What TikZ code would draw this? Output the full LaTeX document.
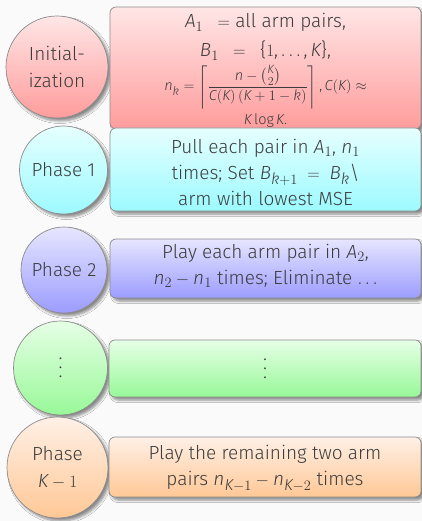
\documentclass[tikz,border=0pt]{standalone}
\usepackage{amsmath}
\usepackage{fontspec}
\setmainfont{Fira Sans Light}
\usepackage[italic]{mathastext}
\usetikzlibrary{shadows.blur}

\definecolor{bgc}{HTML}{FAFAFA}
\definecolor{ink}{HTML}{3C3C3C}
\definecolor{edge}{HTML}{8C8C8C}
\definecolor{redT}{HTML}{FFE6E6}\definecolor{redB}{HTML}{FF9C9C}
\definecolor{cyaT}{HTML}{E6FFFF}\definecolor{cyaB}{HTML}{9CFAFF}
\definecolor{bluT}{HTML}{E6E6FF}\definecolor{bluB}{HTML}{9C9CFF}
\definecolor{grnT}{HTML}{E6FFE6}\definecolor{grnB}{HTML}{98F898}
\definecolor{orgT}{HTML}{FFF0E6}\definecolor{orgB}{HTML}{FFC896}

% three stacked dots, spaced like a tall vertical ellipsis
\newcommand\stackdots{\vbox{\baselineskip=9pt\lineskiplimit=-20pt
  \hbox{.}\hbox{.}\hbox{.}}}
% the full-length minus sign of the math symbol font
\newcommand\mminus{\mathchar"2200\relax}

\tikzset{
  softshadow/.style={blur shadow={shadow xshift=3pt, shadow yshift=-3pt,
      shadow blur steps=6, shadow blur radius=2.5pt, shadow opacity=45}},
  phasecirc/.style={circle, draw=edge, line width=0.7pt, inner sep=0pt,
      softshadow, text=ink, align=center,
      font=\fontsize{19}{27}\selectfont},
  stagebox/.style={rectangle, rounded corners=6pt, draw=edge,
      line width=0.7pt, inner sep=0pt, softshadow},
  boxtext/.style={text=ink, align=center, inner sep=0pt,
      font=\fontsize{19}{26}\selectfont},
  smalltext/.style={text=ink, inner sep=0pt,
      font=\fontsize{14.5}{16}\selectfont},
  tint/.style 2 args={top color=#1, bottom color=#2}
}

\begin{document}
\begin{tikzpicture}[x=1pt,y=1pt]
  \fill[bgc] (0,0) rectangle (422,-521);
  \useasboundingbox (0,0) rectangle (422,-521);

  % Initialization
  \node[phasecirc, tint={redT}{redB}, minimum size=102pt] (c1) at (57,-67)
       {Initial-\\ization};
  \node[stagebox, tint={redT}{redB}, minimum width=311pt, minimum height=122pt]
       (b1) at (265.5,-68) {};
  \node[boxtext, anchor=base] (t1a) at (b1.center |- 0,-28)
       {$A_1\;\;=$ all arm pairs,};
  \node[boxtext, anchor=base] (t1b) at (b1.center |- 0,-57)
       {$B_1\;\;=\;\;\{1,\ldots,K\}$,};
  \node[smalltext, anchor=base] (t1c) at (b1.center |- 0,-91)
       {$n_k = \left\lceil \dfrac{n\mminus\binom{K}{2}}{C(K)\,(K+1\mminus k)} \right\rceil, C(K) \approx$};
  \node[smalltext, anchor=base] (t1d) at (b1.center |- 0,-125)
       {$K\log K$.};

  % Phase 1
  \node[phasecirc, tint={cyaT}{cyaB}, minimum size=88pt] (c2) at (63.5,-170)
       {Phase 1};
  \node[stagebox, tint={cyaT}{cyaB}, minimum width=311pt, minimum height=83pt]
       (b2) at (265.5,-169.5) {};
  \node[boxtext] (t2) at (b2.center |- 0,-172)
       {Pull each pair in $A_1$, $n_1$\\
        times; Set $B_{k+1}\;=\;B_k\backslash$\\
        arm with lowest MSE};

  % Phase 2
  \node[phasecirc, tint={bluT}{bluB}, minimum size=86pt] (c3) at (64,-270)
       {Phase 2};
  \node[stagebox, tint={bluT}{bluB}, minimum width=311pt, minimum height=59pt]
       (b3) at (265.5,-268.5) {};
  \node[boxtext] (t3) at (b3.center |- 0,-266)
       {Play each arm pair in $A_2$,\\
        $n_2\mminus n_1$ times; Eliminate $\ldots$};

  % Intermediate phases
  \node[phasecirc, tint={grnT}{grnB}, minimum size=94pt] (c4) at (60.5,-368)
       {\stackdots};
  \node[stagebox, tint={grnT}{grnB}, minimum width=312pt, minimum height=57pt]
       (b4) at (265,-368.5) {};
  \node[boxtext] (t4) at (b4.center) {\stackdots};

  % Phase K-1
  \node[phasecirc, tint={orgT}{orgB}, minimum size=101pt] (c5) at (57.5,-467.5)
       {Phase\\$K\mminus 1$};
  \node[stagebox, tint={orgT}{orgB}, minimum width=312pt, minimum height=60pt]
       (b5) at (265,-467) {};
  \node[boxtext] (t5) at (b5.center |- 0,-468)
       {Play the remaining two arm\\
        pairs $n_{K\mminus 1}\mminus n_{K\mminus 2}$ times};
\end{tikzpicture}
\end{document}
